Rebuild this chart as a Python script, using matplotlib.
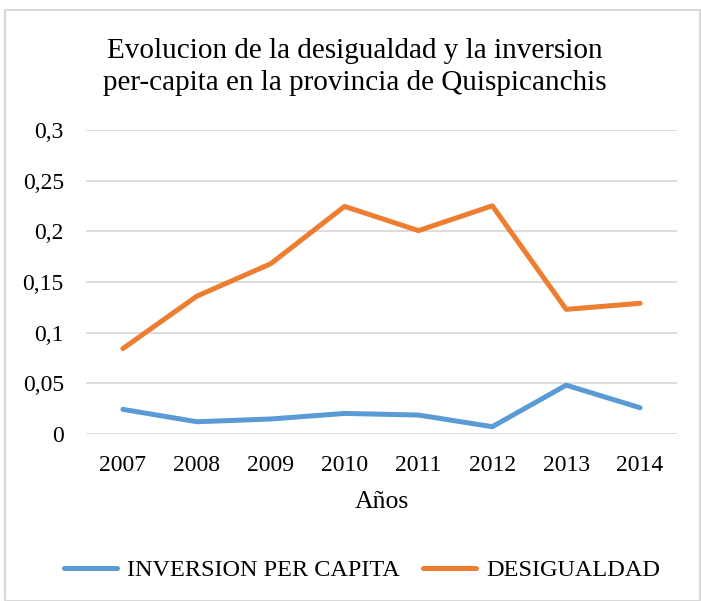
import matplotlib
matplotlib.use("Agg")
import matplotlib.pyplot as plt
from matplotlib.patches import Rectangle
from matplotlib.lines import Line2D

years = ["2007", "2008", "2009", "2010", "2011", "2012", "2013", "2014"]
inversion = [0.0243, 0.0121, 0.0148, 0.0203, 0.0187, 0.0072, 0.0482, 0.0259]
desigualdad = [0.0843, 0.136, 0.168, 0.2246, 0.2007, 0.2252, 0.123, 0.129]
ytick_vals = [0, 0.05, 0.1, 0.15, 0.2, 0.25, 0.3]
ytick_labels = ["0", "0,05", "0,1", "0,15", "0,2", "0,25", "0,3"]
title = "Evolucion de la desigualdad y la inversion\nper-capita en la provincia de Quispicanchis"
xlabel = "Años"
series_names = ["INVERSION PER CAPITA", "DESIGUALDAD"]

plt.rcParams['font.family'] = ['Liberation Serif', 'DejaVu Serif']

W, H = 701, 601
fig = plt.figure(figsize=(W / 100, H / 100), dpi=100)

# chart area border
fig.patches.append(Rectangle((5 / W, 0), (W - 6) / W, 1 - 10 / H,
                             transform=fig.transFigure, fill=False,
                             edgecolor="#d9d9d9", linewidth=1.5))

left, right, top, bottom = 86, 677, 130, 434
ax = fig.add_axes([left / W, 1 - bottom / H, (right - left) / W, (bottom - top) / H])

blue = "#5B9BD5"
orange = "#ED7D31"
x = list(range(len(years)))
ax.plot(x, inversion, color=blue, lw=3.6, solid_capstyle="round", solid_joinstyle="round")
ax.plot(x, desigualdad, color=orange, lw=3.6, solid_capstyle="round", solid_joinstyle="round")

ax.set_xlim(-0.5, len(years) - 0.5)
ax.set_ylim(0, 0.3)
ax.set_yticks(ytick_vals)
ax.set_yticklabels(ytick_labels)
ax.set_xticks(x)
ax.set_xticklabels(years)
ax.grid(axis="y", color="#d9d9d9", linewidth=1.3)
ax.set_axisbelow(True)
for s in ax.spines.values():
    s.set_visible(False)
ax.tick_params(axis="both", length=0, labelsize=17, colors="#000000")
ax.tick_params(axis="y", pad=16)
ax.tick_params(axis="x", pad=15)
ax.set_xlabel(xlabel, fontsize=18.5, labelpad=11)

fig.text(355 / W, 1 - 67 / H, title, ha="center", va="center", fontsize=21,
         linespacing=1.27)

handles = [Line2D([], [], color=blue, lw=3.6, solid_capstyle="round"),
           Line2D([], [], color=orange, lw=3.6, solid_capstyle="round")]
fig.legend(handles, series_names, loc="center", bbox_to_anchor=(362 / W, 1 - 570 / H),
           ncol=2, frameon=False, fontsize=17.5, handlelength=2.2, handletextpad=0.4,
           columnspacing=0.95)

fig.savefig("out.png", dpi=100)
